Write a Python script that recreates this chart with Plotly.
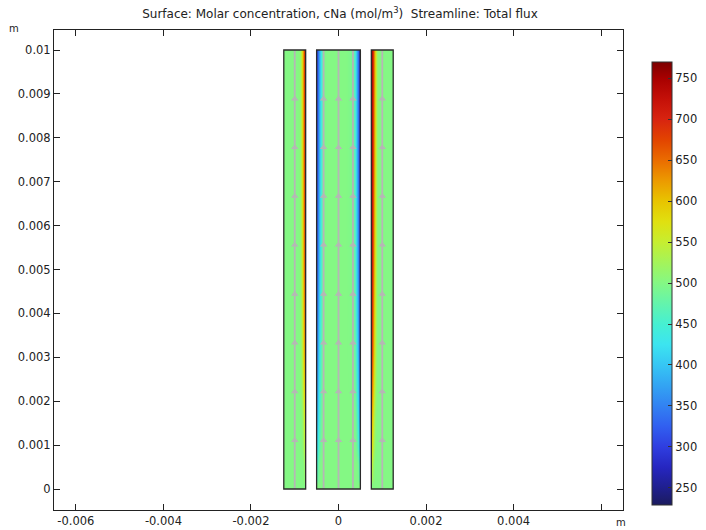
import plotly.graph_objects as go

# ---------------- data (lengths in mm, concentration in mol/m^3) ----------------
y_levels_mm = [0, 0.4, 1.5, 3, 5, 7.5, 10]

# concentrate channels: distance from the membrane (mm) -> concentration
conc_d_mm = [0, 0.015, 0.03, 0.05, 0.07, 0.09, 0.12, 0.16, 0.25, 0.5]
conc_profiles = [
    [500, 500, 500, 500, 500, 500, 500, 500, 500, 500],
    [570, 545, 520, 505, 500, 500, 500, 500, 500, 500],
    [640, 605, 570, 535, 515, 505, 500, 500, 500, 500],
    [715, 680, 636, 583, 547, 522, 504, 500, 500, 500],
    [750, 715, 672, 612, 568, 535, 508, 500, 500, 500],
    [765, 732, 690, 630, 582, 545, 512, 501, 500, 500],
    [770, 740, 700, 640, 590, 550, 515, 502, 500, 500],
]

# diluate channel: distance from each membrane (mm) -> concentration
dil_d_mm = [0, 0.015, 0.03, 0.05, 0.07, 0.09, 0.12, 0.16, 0.2, 0.3]
dil_center = 500
dil_left_profiles = [
    [500, 500, 500, 500, 500, 500, 500, 500, 500, 500],
    [440, 460, 478, 492, 498, 500, 500, 500, 500, 500],
    [370, 395, 422, 452, 472, 487, 496, 500, 500, 500],
    [330, 358, 390, 425, 450, 470, 488, 498, 500, 500],
    [305, 332, 364, 400, 430, 455, 480, 495, 500, 500],
    [292, 320, 352, 388, 418, 445, 474, 493, 499, 500],
    [285, 315, 345, 380, 410, 438, 470, 492, 499, 500],
]
dil_right_profiles = [
    [500, 500, 500, 500, 500, 500, 500, 500, 500, 500],
    [400, 430, 460, 485, 495, 500, 500, 500, 500, 500],
    [320, 350, 385, 425, 455, 475, 492, 499, 500, 500],
    [275, 305, 340, 380, 415, 445, 472, 490, 498, 500],
    [250, 280, 315, 355, 390, 420, 455, 482, 495, 500],
    [238, 265, 300, 340, 375, 408, 445, 476, 492, 500],
    [232, 258, 292, 332, 368, 400, 440, 472, 490, 500],
]

# geometry of channels (mm)
left_channel = (-1.25, -0.75)
mid_channel = (-0.5, 0.5)
right_channel = (0.75, 1.25)
height_mm = (0, 10)

# streamlines (mm)
stream_x_mm = [-1.0, -0.34, 0.0, 0.33, 1.0]
arrow_y_mm = [1.11, 2.22, 3.33, 4.44, 5.56, 6.67, 7.78, 8.89]

x_tickvals = [-0.006, -0.004, -0.002, 0, 0.002, 0.004, 0.006]
x_ticktext = ["-0.006", "-0.004", "-0.002", "0", "0.002", "0.004", ""]
y_tickvals = [0, 0.001, 0.002, 0.003, 0.004, 0.005, 0.006, 0.007, 0.008, 0.009, 0.01]
y_ticktext = ["0", "0.001", "0.002", "0.003", "0.004", "0.005", "0.006", "0.007", "0.008", "0.009", "0.01"]
cbar_ticks = [250, 300, 350, 400, 450, 500, 550, 600, 650, 700, 750]

cmin, cmax = 229, 770
rainbow = [
    (229, "#1b1b5e"), (250, "#1f1f8e"), (275, "#2626c0"), (300, "#2f3ee0"),
    (325, "#315ff0"), (350, "#3282f2"), (375, "#33a4f3"), (400, "#36c6f4"),
    (425, "#3ce4f0"), (450, "#46f0d2"), (475, "#64f4ac"), (500, "#84f884"),
    (525, "#a4f45a"), (550, "#c6ee30"), (575, "#e0e010"), (600, "#e8c400"),
    (625, "#ec9a00"), (650, "#ea6c00"), (675, "#e24400"), (700, "#d82410"),
    (725, "#c41008"), (750, "#a80000"), (770, "#7c0000"),
]
colorscale = [[(v - cmin) / (cmax - cmin), c] for v, c in rainbow]

FONT = "DejaVu Sans"
mm = 0.001

W, H = 706, 530
ML, MR, MT, MB = 54, 83, 30, 20
PW, PH = W - ML - MR, H - MT - MB


def edges(c):
    return [c[0]] + [(c[i] + c[i + 1]) / 2 for i in range(len(c) - 1)] + [c[-1]]


def px_to_paper_x(px):
    return (px - ML) / PW


def px_to_paper_y(py):
    return (H - MB - py) / PH


y_edges = [v * mm for v in edges(y_levels_mm)]

# left concentrate channel (membrane on the right side at -0.75)
xl = [left_channel[1] - d for d in reversed(conc_d_mm)]
zl = [list(reversed(r)) for r in conc_profiles]
# right concentrate channel (membrane on the left side at 0.75)
xr = [right_channel[0] + d for d in conc_d_mm]
zr = [list(r) for r in conc_profiles]
# diluate channel
xm = [mid_channel[0] + d for d in dil_d_mm] + [0.0] + [mid_channel[1] - d for d in reversed(dil_d_mm)]
zm = [list(a) + [dil_center] + list(reversed(b)) for a, b in zip(dil_left_profiles, dil_right_profiles)]

fig = go.Figure()
for xs, zs in [(xl, zl), (xm, zm), (xr, zr)]:
    fig.add_trace(go.Heatmap(
        x=[v * mm for v in edges(xs)], y=y_edges, z=zs,
        zsmooth="best", coloraxis="coloraxis", hoverinfo="skip",
    ))

# streamlines
for sx in stream_x_mm:
    fig.add_trace(go.Scatter(x=[sx * mm, sx * mm], y=[height_mm[0] * mm, height_mm[1] * mm],
                             mode="lines", line=dict(color="#b6b6b6", width=1.8),
                             hoverinfo="skip", showlegend=False))
ax, ay = [], []
for sx in stream_x_mm:
    for yy in arrow_y_mm:
        ax.append(sx * mm)
        ay.append(yy * mm)
fig.add_trace(go.Scatter(x=ax, y=ay, mode="markers",
                         marker=dict(symbol="triangle-up", size=6.5, color="#b6b6b6",
                                     line=dict(width=0)),
                         hoverinfo="skip", showlegend=False))

# channel outlines
for x0, x1 in [left_channel, mid_channel, right_channel]:
    fig.add_shape(type="rect", x0=x0 * mm, x1=x1 * mm, y0=height_mm[0] * mm, y1=height_mm[1] * mm,
                  line=dict(color="#2a2a2a", width=1.3), fillcolor="rgba(0,0,0,0)", layer="above")

axis_common = dict(showgrid=False, zeroline=False, showline=True, mirror="allticks",
                   linecolor="#222", linewidth=1, ticks="inside", ticklen=6,
                   tickcolor="#222", tickfont=dict(family=FONT, size=11.5, color="#222"),
                   automargin=False)

fig.update_layout(
    width=W, height=H,
    margin=dict(l=ML, r=MR, t=MT, b=MB, autoexpand=False),
    paper_bgcolor="white", plot_bgcolor="white",
    showlegend=False,
    title=dict(text="Surface: Molar concentration, cNa (mol/m<sup>3</sup>)  Streamline: Total flux",
               x=px_to_paper_x(340), xref="paper", xanchor="center",
               y=1 - 14 / H, yref="container", yanchor="middle",
               font=dict(family=FONT, size=12, color="#222")),
    xaxis=dict(range=[-0.0065, 0.0065], tickvals=x_tickvals, ticktext=x_ticktext, **axis_common),
    yaxis=dict(range=[-0.000478, 0.010456], tickvals=y_tickvals, ticktext=y_ticktext, **axis_common),
    coloraxis=dict(
        cmin=cmin, cmax=cmax, colorscale=colorscale,
        colorbar=dict(
            x=px_to_paper_x(652), xanchor="left", xpad=0,
            y=px_to_paper_y(283.5), yanchor="middle", ypad=0,
            thickness=20, thicknessmode="pixels",
            len=443, lenmode="pixels",
            outlinewidth=1, outlinecolor="#333",
            ticks="inside", ticklen=4, tickcolor="#333",
            tickvals=cbar_ticks,
            tickfont=dict(family=FONT, size=11.5, color="#222"),
        ),
    ),
    annotations=[
        dict(text="m", xref="paper", yref="paper", x=px_to_paper_x(14), y=px_to_paper_y(28),
             xanchor="center", yanchor="middle",
             showarrow=False, font=dict(family=FONT, size=10, color="#222")),
        dict(text="m", xref="paper", yref="paper", x=px_to_paper_x(621), y=px_to_paper_y(522),
             xanchor="center", yanchor="middle",
             showarrow=False, font=dict(family=FONT, size=10, color="#222")),
    ],
)

fig.write_html("out.html", config={"displayModeBar": False},
               post_script=["document.body.style.margin='0';document.body.style.overflow='hidden';"])
